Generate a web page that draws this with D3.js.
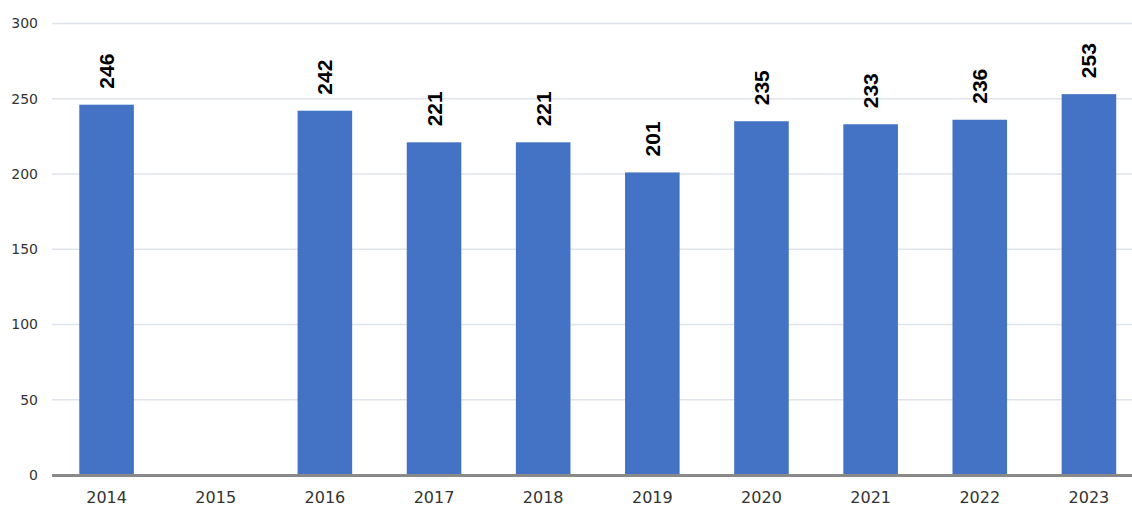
<!DOCTYPE html>
<html>
<head>
<meta charset="utf-8">
<script src="https://cdn.jsdelivr.net/npm/d3@7"></script>
<style>
  html, body { margin: 0; padding: 0; background: #fff; overflow: hidden; }
  svg { display: block; }
</style>
</head>
<body>
<svg id="chart" width="1132" height="508"></svg>
<script>
// Yearly totals (2015 has no reported value)
const years = ["2014", "2015", "2016", "2017", "2018", "2019", "2020", "2021", "2022", "2023"];
const values = [246, null, 242, 221, 221, 201, 235, 233, 236, 253];
const yTicks = [0, 50, 100, 150, 200, 250, 300];

const width = 1132, height = 508;
const svg = d3.select("#chart");

const x = d3.scaleBand()
  .domain(years)
  .range([52, 1143.5])
  .paddingInner(0.5)
  .paddingOuter(0.25);

const y = d3.scaleLinear()
  .domain([0, 300])
  .range([475, 23.4]);

// Horizontal gridlines
svg.append("g")
  .selectAll("line")
  .data(yTicks.filter(t => t > 0))
  .join("line")
  .attr("x1", 52).attr("x2", width)
  .attr("y1", d => y(d)).attr("y2", d => y(d))
  .attr("stroke", "#dfe3ea")
  .attr("stroke-width", 1.5);

// Y axis labels
const yAxis = svg.append("g")
  .attr("transform", "translate(52,0)")
  .call(d3.axisLeft(y).tickValues(yTicks).tickSize(0).tickPadding(14));
yAxis.select(".domain").remove();
yAxis.selectAll("text")
  .attr("font-family", "'DejaVu Sans', sans-serif")
  .attr("font-size", 14)
  .attr("fill", "#333");

const data = years.map((yr, i) => ({ year: yr, value: values[i] }))
  .filter(d => d.value !== null);

// Bars
svg.append("g")
  .selectAll("rect")
  .data(data)
  .join("rect")
  .attr("x", d => x(d.year))
  .attr("width", x.bandwidth())
  .attr("y", d => y(d.value))
  .attr("height", d => y(0) - y(d.value))
  .attr("fill", "#4472c4");

// Value labels, rotated above each bar
svg.append("g")
  .selectAll("text")
  .data(data)
  .join("text")
  .attr("transform", d => `translate(${x(d.year) + x.bandwidth() / 2 + 7.5},${y(d.value) - 16}) rotate(-90)`)
  .attr("text-anchor", "start")
  .attr("font-family", "'Liberation Sans', Arial, sans-serif")
  .attr("font-weight", "bold")
  .attr("font-size", 21)
  .attr("fill", "#000")
  .text(d => d.value);

// Baseline
svg.append("line")
  .attr("x1", 52).attr("x2", width)
  .attr("y1", y(0) + 0.5).attr("y2", y(0) + 0.5)
  .attr("stroke", "#898989")
  .attr("stroke-width", 3);

// X axis labels
const xAxis = svg.append("g")
  .attr("transform", `translate(0,${y(0)})`)
  .call(d3.axisBottom(x).tickSize(0).tickPadding(17));
xAxis.select(".domain").remove();
xAxis.selectAll("text")
  .attr("font-family", "'DejaVu Sans', sans-serif")
  .attr("font-size", 16)
  .attr("fill", "#333");
</script>
</body>
</html>
